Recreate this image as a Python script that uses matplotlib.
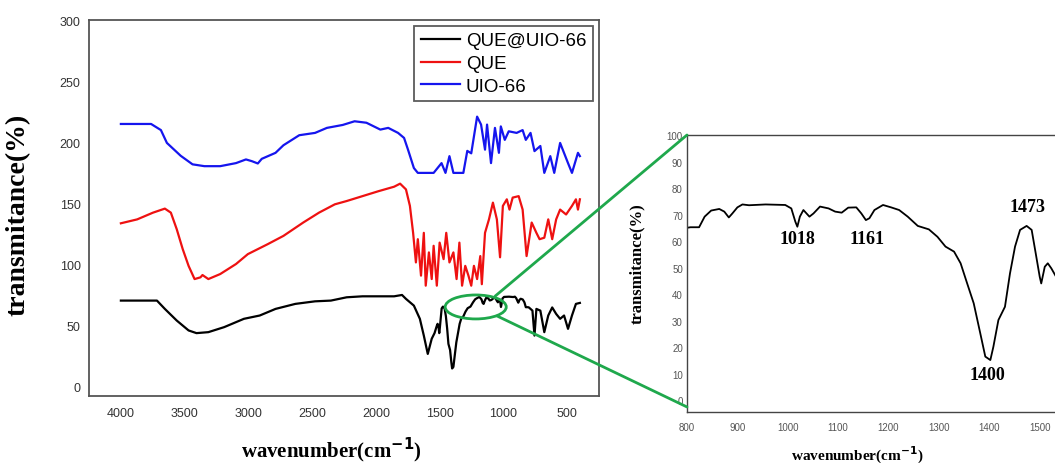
import matplotlib.pyplot as plt
from matplotlib.patches import Ellipse, ConnectionPatch

# ---- data ----
# UIO-66 (blue)
uio_wn = [4000, 3763, 3686, 3639, 3531, 3438, 3345, 3221, 3097, 3019, 2973, 2926, 2895,
          2787, 2725, 2601, 2477, 2384, 2260, 2167, 2074, 1965, 1903, 1826, 1779, 1748,
          1702, 1671, 1547, 1485, 1454, 1423, 1392, 1314, 1283, 1252, 1206, 1175, 1144,
          1128, 1097, 1066, 1035, 1020, 989, 958, 896, 849, 824, 787, 756, 710, 679,
          632, 601, 555, 493, 462, 415, 400]
uio_t = [215, 215, 210, 199.5, 189, 182, 180.5, 180.5, 183, 186, 184.6, 182.7, 186.5,
         191.4, 197.6, 205.8, 207.7, 211.8, 214.2, 217.2, 216, 210.4, 211.8, 207.7, 203.6, 194,
         179, 175, 175, 183, 175, 188.7, 175, 175, 193, 191, 221, 214.5, 194,
         214.5, 183, 211.8, 191.4, 213, 202, 209, 207.7, 210, 202, 207.7, 192.8, 197, 175,
         188.7, 175, 199.5, 183, 175, 191.4, 188.7]

# QUE (red)
que_wn = [4000, 3872, 3748, 3655, 3608, 3562, 3515, 3469, 3422, 3376, 3360, 3314, 3221,
          3097, 3004, 2849, 2725, 2570, 2446, 2322, 2229, 2105, 1981, 1857, 1810, 1764,
          1733, 1708, 1686, 1671, 1646, 1624, 1609, 1584, 1562, 1547, 1522, 1500, 1469,
          1448, 1423, 1392, 1367, 1345, 1324, 1299, 1274, 1252, 1231, 1206, 1181, 1169,
          1144, 1113, 1082, 1051, 1026, 1004, 973, 952, 927, 880, 849, 818, 778, 741,
          716, 679, 648, 617, 586, 555, 508, 462, 431, 415, 400]
que_t = [133.8, 137, 142.5, 145.8, 142.5, 129, 112.7, 99, 88.2, 89.6, 91.5, 88.2, 92.3,
         100.5, 108.6, 116.7, 123.5, 134.4, 142.5, 149.3, 152, 156, 160, 163.7, 166.2, 161.5,
         148, 126, 101.8, 120.8, 91, 126, 82.8, 110, 88.2, 115.4, 82.8, 118, 104.5,
         126, 101.8, 110, 88.2, 118, 82.8, 99, 91, 82.8, 99, 88.2, 107, 84,
         126, 137, 150.7, 137, 106, 148, 153.4, 145, 154.8, 156, 145, 107, 134.4, 126,
         120.8, 122, 137, 120.8, 137, 145, 141, 148, 153.4, 145, 153.4]

# QUE@UIO-66 (black), detail 800-1530 taken from the inset
qu_wn = [4000, 3717, 3655, 3562, 3469, 3407, 3314, 3190, 3035, 2911, 2787, 2632, 2477,
         2353, 2229, 2105, 1857, 1795, 1764, 1702, 1655, 1624, 1593, 1562, 1540,
         1523, 1516, 1510, 1503, 1500, 1492, 1484, 1474, 1461, 1451, 1441, 1431, 1418,
         1408, 1402, 1392, 1382, 1369, 1356, 1343, 1330, 1313, 1297, 1280, 1258, 1238,
         1221, 1205, 1189, 1172, 1162, 1155, 1146, 1136, 1120, 1107, 1094, 1081, 1064,
         1051, 1043, 1031, 1024, 1019, 1015, 1007, 995, 956, 923, 910, 900, 890, 883,
         874, 864, 848, 835, 824, 807, 800, 772, 756, 741, 710, 679, 648, 617, 586,
         555, 524, 493, 462, 431, 400]
qu_t = [70.6, 70.6, 63.8, 54.3, 46.2, 44, 44.8, 48.9, 55.7, 58.4, 63.8, 67.9, 70,
        70.6, 73.3, 74.1, 74.1, 75.2, 72, 66.5, 55.7, 42, 27, 39.4, 44,
        49.7, 51.6, 50.3, 44, 46.5, 55.4, 64.2, 65.7, 64.2, 57.9, 47.8, 35.2, 30.2,
        20.1, 15.1, 16.4, 25.2, 36.5, 44, 51.6, 56, 57.9, 61.6, 64.4, 65.7, 69.2,
        71.7, 72.7, 73.6, 71.7, 68.6, 67.9, 70.4, 72.7, 72.6, 70.7, 71.1, 72.3, 73,
        70.4, 69.2, 71.7, 69.2, 65.4, 67.3, 72.3, 73.6, 73.8, 73.5, 73.8, 72.7, 70.4, 68.9,
        71.1, 72.1, 71.5, 69.2, 65.2, 65.2, 65, 62.4, 42, 63.8, 62.4, 44.8, 58.4, 65, 59.7,
        55.7, 58.4, 47.5, 58.4, 67.9, 68.7]

# peak labels in the inset
peak_labels = ['1018', '1161', '1473', '1400']
peak_x = [1020, 1157, 1475, 1397]
peak_y = [60.8, 60.8, 73.2, 9.8]

main_xticks = [4000, 3500, 3000, 2500, 2000, 1500, 1000, 500]
main_yticks = [0, 50, 100, 150, 200, 250, 300]
zoom_xticks = [800, 900, 1000, 1100, 1200, 1300, 1400, 1500]
zoom_yticks = [0, 10, 20, 30, 40, 50, 60, 70, 80, 90, 100]

green = '#1fa84c'
serif = 'Liberation Serif'
sans = 'Liberation Sans'

fig = plt.figure(figsize=(10.55, 4.64), dpi=100)

# ---- main spectrum plot ----
ax = fig.add_axes([89/1055, 67/464, 510/1055, 376/464])
ax.plot(qu_wn, qu_t, color='black', lw=1.6, label='QUE@UIO-66')
ax.plot(que_wn, que_t, color='#ee1111', lw=1.6, label='QUE')
ax.plot(uio_wn, uio_t, color='#1515ee', lw=1.6, label='UIO-66')
ax.set_xlim(4250, 250)
ax.set_ylim(-7.4, 300)
ax.set_xticks(main_xticks)
ax.set_yticks(main_yticks)
ax.tick_params(length=0, labelsize=9, labelcolor='#333333')
ax.tick_params(axis='x', pad=8)
ax.tick_params(axis='y', pad=6)
for lab in ax.get_xticklabels() + ax.get_yticklabels():
    lab.set_family(sans)
for sp in ax.spines.values():
    sp.set_color('#555555')
    sp.set_linewidth(1.3)

ax.set_xlabel('wavenumber(cm$^{\\mathbf{-1}}$)', family=serif, fontweight='bold', fontsize=15)
ax.xaxis.set_label_coords(0.475, -0.143)
ax.xaxis.label.set_va('center')
ax.set_ylabel('transmitance(%)', family=serif, fontweight='bold', fontsize=20)
ax.yaxis.set_label_coords(-0.139, 0.484)
ax.yaxis.label.set_va('center')

leg = ax.legend(loc='upper right', bbox_to_anchor=(0.988, 0.985),
                prop={'family': sans, 'size': 13.5}, frameon=True, fancybox=False,
                handlelength=2.1, handletextpad=0.3, labelspacing=0.3,
                borderpad=0.35, borderaxespad=0)
leg.get_frame().set_edgecolor('#333333')
leg.get_frame().set_linewidth(1.3)

# ellipse marking the zoomed region
ax.add_patch(Ellipse((1217, 65.4), 479, 19.6, fill=False, edgecolor=green, lw=2, zorder=5))

# ---- inset (zoom of QUE@UIO-66) ----
axin = fig.add_axes([687/1055, 51/464, 388/1055, 277/464])
axin.plot(qu_wn, qu_t, color='black', lw=1.3)
axin.set_xlim(800, 1570)
axin.set_ylim(-4.5, 100)
axin.set_xticks(zoom_xticks)
axin.set_yticks(zoom_yticks)
axin.tick_params(length=0, labelsize=7, labelcolor='#555555')
axin.tick_params(axis='x', pad=7)
axin.tick_params(axis='y', pad=3)
for lab in axin.get_xticklabels() + axin.get_yticklabels():
    lab.set_family(sans)
for sp in axin.spines.values():
    sp.set_color('#444444')
    sp.set_linewidth(1.0)

axin.set_xlabel('wavenumber(cm$^{\\mathbf{-1}}$)', family=serif, fontweight='bold', fontsize=11)
axin.xaxis.set_label_coords(0.44, -0.152)
axin.xaxis.label.set_va('center')
axin.set_ylabel('transmitance(%)', family=serif, fontweight='bold', fontsize=12)
axin.yaxis.set_label_coords(-0.129, 0.538)
axin.yaxis.label.set_va('center')

for txt, px, py in zip(peak_labels, peak_x, peak_y):
    axin.text(px, py, txt, ha='center', va='center', family=serif,
              fontweight='bold', fontsize=13)

# green connector lines from the ellipse to the inset corners
for xa, ya, yb in [(1064, 74.3, 100), (1049, 58, -2.6)]:
    con = ConnectionPatch(xyA=(xa, ya), coordsA=ax.transData,
                          xyB=(800, yb), coordsB=axin.transData,
                          color=green, lw=2, zorder=10)
    fig.add_artist(con)

plt.savefig('out.png', dpi=100)
